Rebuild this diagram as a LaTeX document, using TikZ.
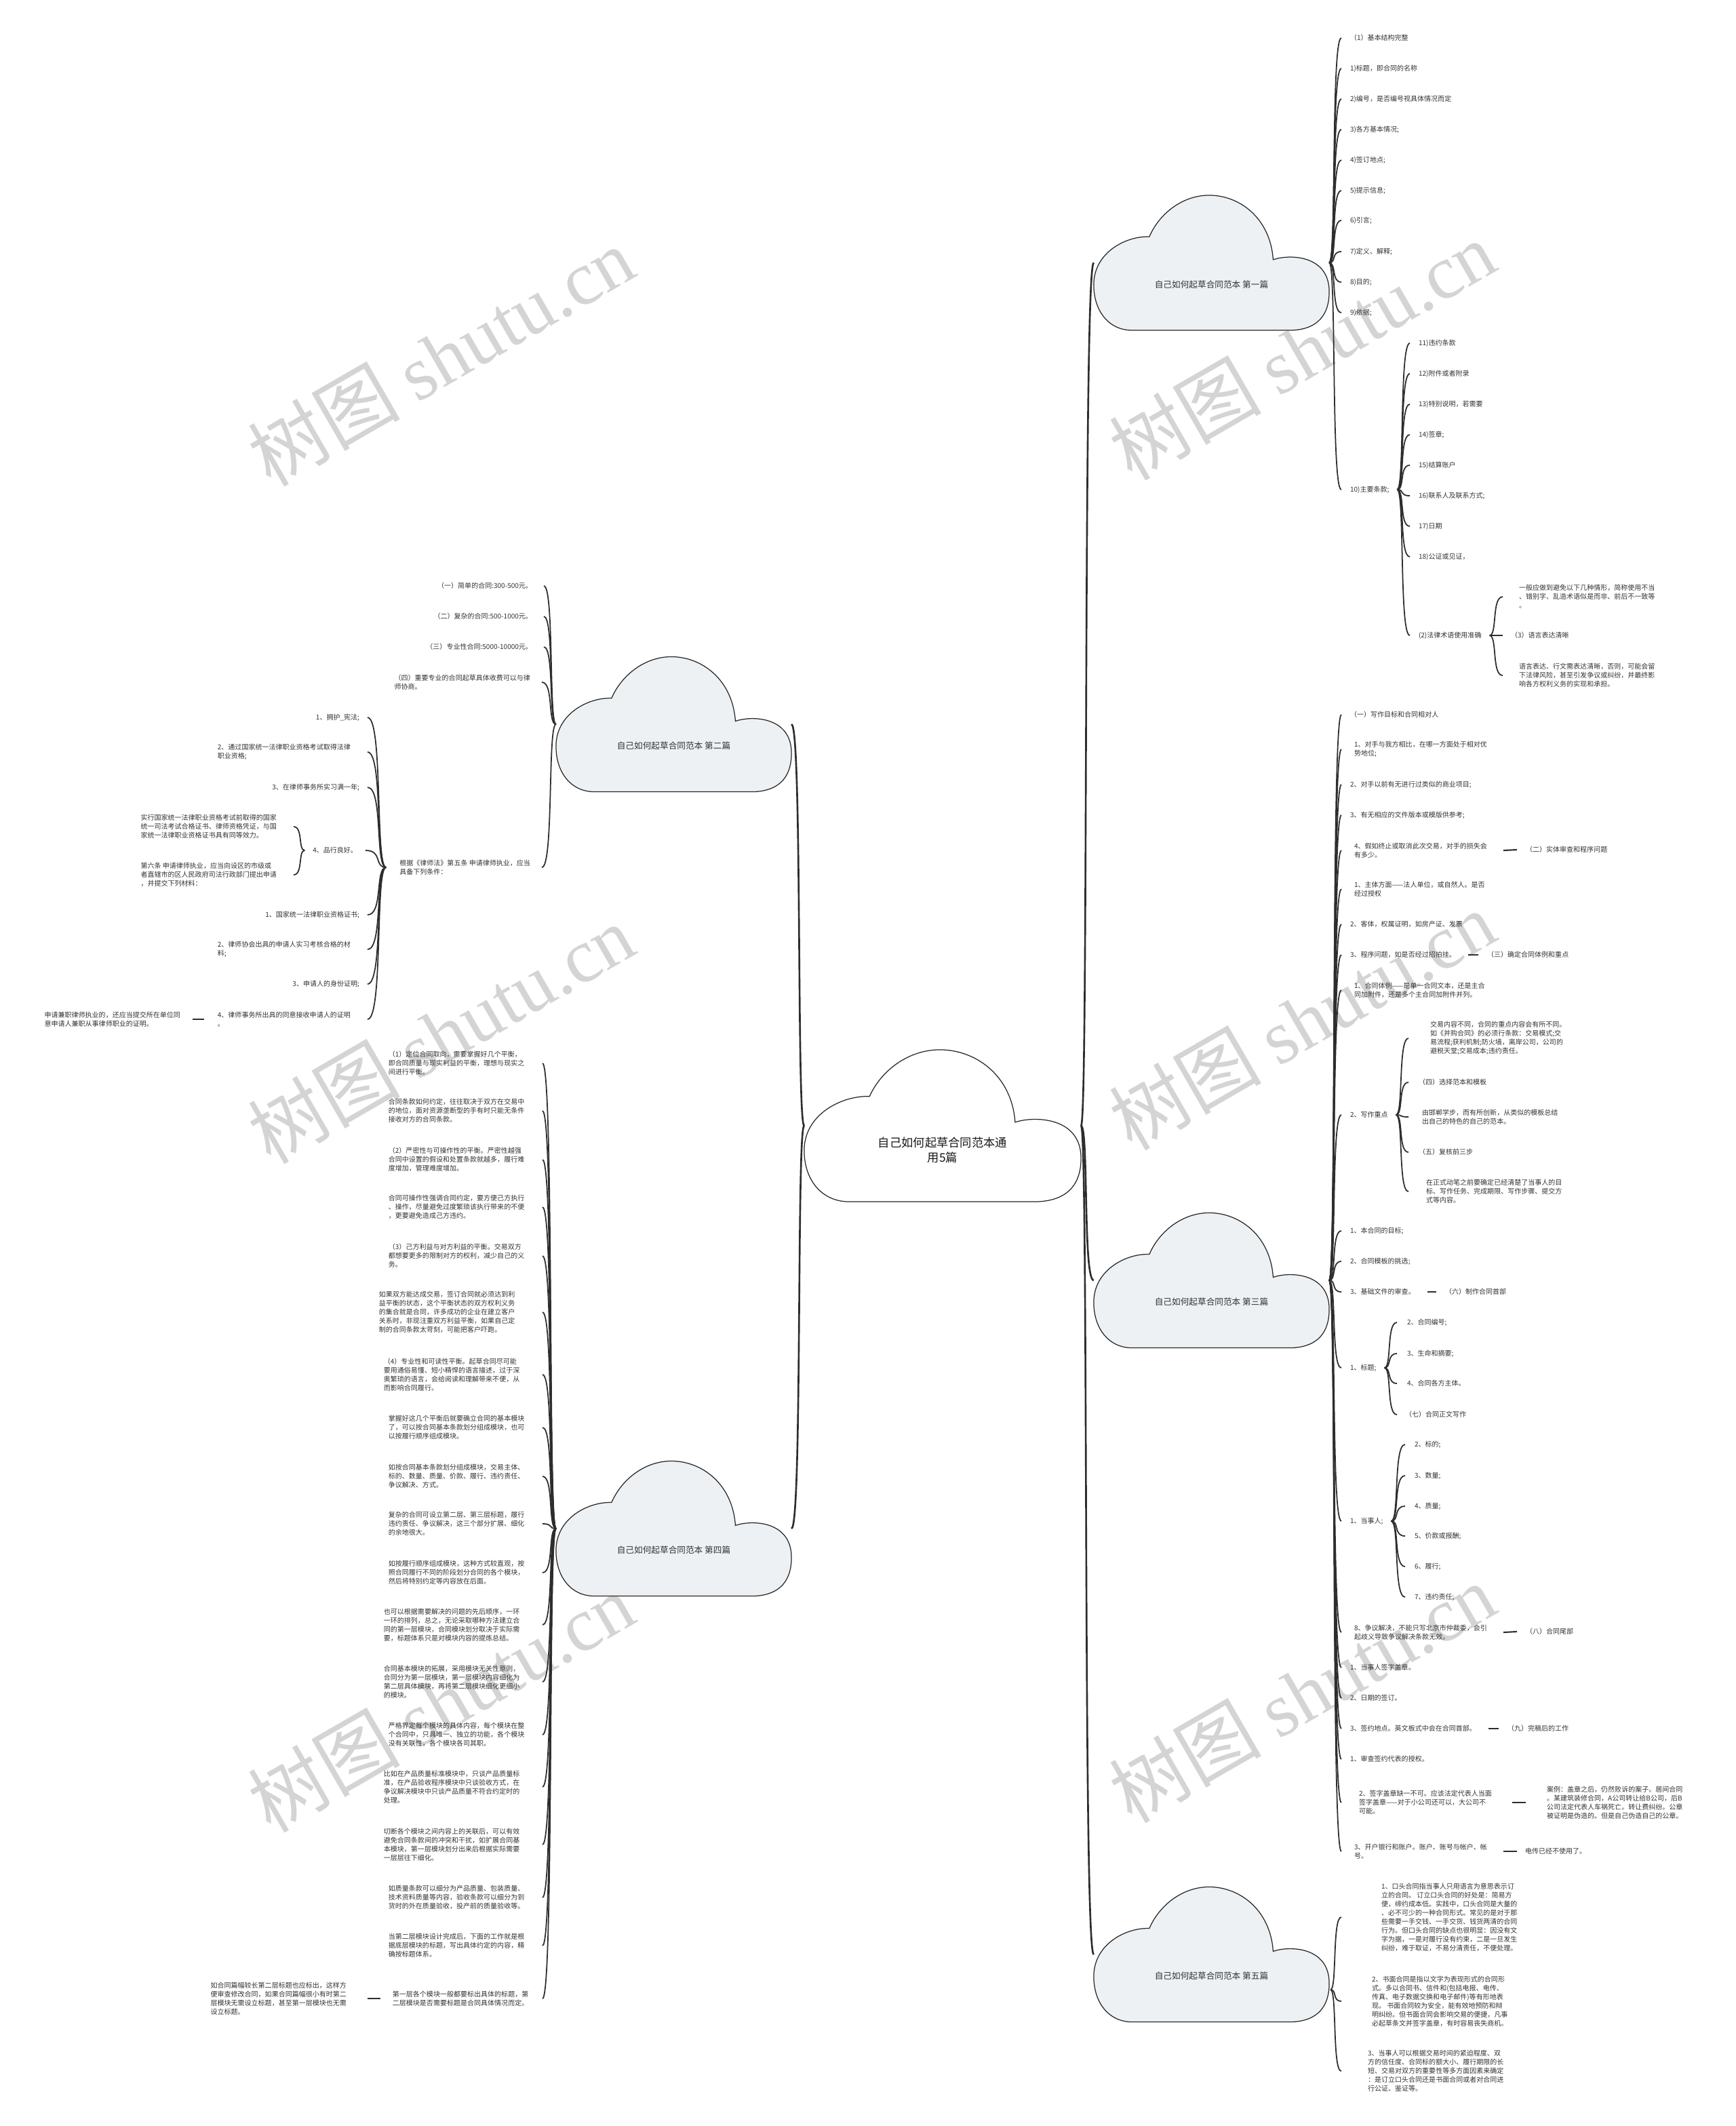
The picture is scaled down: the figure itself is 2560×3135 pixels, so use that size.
\documentclass[tikz,border=0pt]{standalone}
\usepackage{fontspec}
\setmainfont{Noto Sans CJK SC}
\newfontfamily\wmlatin{Liberation Serif}
\usetikzlibrary{calc}
\definecolor{txt}{RGB}{51,51,51}
\definecolor{ln}{RGB}{45,45,45}
\definecolor{secfill}{RGB}{237,241,244}
\definecolor{wmc}{RGB}{212,212,212}
\newcommand\fs{\fontsize{2.85pt}{3.7pt}\selectfont}
\newcommand\fsec{\fontsize{3.6pt}{4.5pt}\selectfont}
\newcommand\froot{\fontsize{4.92pt}{6.17pt}\selectfont}
\newcommand\fwm{\fontsize{32pt}{36pt}\selectfont}
\newcommand\br[3][brline]{\draw[#1] let \p1=#2, \p2=#3 in (\p1) .. controls ({\x1+0.6*(\x2-\x1)},\y1) and ({\x1+0.15*(\x2-\x1)},\y2) .. (\p2);}
\newcommand\cloudshape[4]{%
  \begin{scope}[shift={(#1.center)}]
  \draw[cloudline, fill=#4, x=#2, y=#3] (0.33,-0.5) -- (-0.336,-0.5)
   .. controls (-0.44,-0.5) and (-0.5,-0.35) .. (-0.5,-0.163)
   .. controls (-0.5,0.08) and (-0.36,0.2) .. (-0.264,0.193)
   .. controls (-0.22,0.37) and (-0.12,0.5) .. (-0.01,0.5)
   .. controls (0.12,0.5) and (0.25,0.33) .. (0.262,0.023)
   .. controls (0.33,0.065) and (0.5,0.06) .. (0.5,-0.214)
   .. controls (0.5,-0.42) and (0.43,-0.5) .. (0.33,-0.5) -- cycle;
  \end{scope}}
\tikzset{
  t/.style={font=\fs, text=txt, inner sep=0pt, outer sep=0pt, align=left},
  tl/.style={t, anchor=west},
  tr/.style={t, anchor=east},
  brline/.style={draw=ln, line width=0.5pt},
  trunk/.style={draw=ln, line width=0.75pt},
  dashline/.style={draw=ln, line width=0.6pt},
  cloudbox/.style={inner sep=0pt, outer sep=0pt, minimum width=3.47cm, minimum height=1.99cm},
  rootbox/.style={inner sep=0pt, outer sep=0pt, minimum width=4.08cm, minimum height=2.24cm},
  cloudline/.style={draw=black!85, line width=0.35pt},
  sect/.style={font=\fsec, text=txt, inner sep=0pt},
  roottext/.style={font=\froot, text=black!90, inner sep=0pt, align=center},
  wm/.style={font=\fwm, text=wmc, rotate=30, inner sep=0pt}
}
\begin{document}
\begin{tikzpicture}[x=0.01cm,y=-0.01cm]
\fill[white] (0,0) rectangle (2560,3135);
\useasboundingbox (0,0) rectangle (2560,3135);

% watermarks
\foreach \i/\wx/\wy in {1/650/525, 2/650/1524, 3/650/2510, 4/1920/516, 5/1920/1504, 6/1920/2496}
  \node[wm] (wm\i) at (\wx,\wy) {树图 {\wmlatin shutu.cn}};

% clouds
\node[rootbox] (R) at (1390,1660) {};
\node[cloudbox] (S1) at (1786.5,387.5) {};
\node[cloudbox] (S2) at (993.5,1068) {};
\node[cloudbox] (S3) at (1786.5,1888) {};
\node[cloudbox] (S4) at (993.5,2254) {};
\node[cloudbox] (S5) at (1786.5,2882) {};
\cloudshape{R}{4.08cm}{2.24cm}{white}
\cloudshape{S1}{3.47cm}{1.99cm}{secfill}
\cloudshape{S2}{3.47cm}{1.99cm}{secfill}
\cloudshape{S3}{3.47cm}{1.99cm}{secfill}
\cloudshape{S4}{3.47cm}{1.99cm}{secfill}
\cloudshape{S5}{3.47cm}{1.99cm}{secfill}
\node[roottext] (Rt) at (1390,1696) {自己如何起草合同范本通\\用5篇};
\node[sect] (S1t) at (1786.5,419.5) {自己如何起草合同范本 第一篇};
\node[sect] (S2t) at (993.5,1100) {自己如何起草合同范本 第二篇};
\node[sect] (S3t) at (1786.5,1920) {自己如何起草合同范本 第三篇};
\node[sect] (S4t) at (993.5,2286) {自己如何起草合同范本 第四篇};
\node[sect] (S5t) at (1786.5,2914) {自己如何起草合同范本 第五篇};

% trunks
\br[trunk]{(R.east)}{(S1.west)}
\br[trunk]{(R.east)}{(S3.west)}
\br[trunk]{(R.east)}{(S5.west)}
\br[trunk]{(R.west)}{(S2.east)}
\br[trunk]{(R.west)}{(S4.east)}

% ===== S1 =====
\node[tl] (a1) at (1991,56) {（1）基本结构完整};
\node[tl] (a2) at (1991,101) {1)标题，即合同的名称};
\node[tl] (a3) at (1991,146) {2)编号，是否编号视具体情况而定};
\node[tl] (a4) at (1991,191) {3)各方基本情况;};
\node[tl] (a5) at (1991,236) {4)签订地点;};
\node[tl] (a6) at (1991,281) {5)提示信息;};
\node[tl] (a7) at (1991,325) {6)引言;};
\node[tl] (a8) at (1991,371) {7)定义、解释;};
\node[tl] (a9) at (1991,416) {8)目的;};
\node[tl] (a10) at (1991,461) {9)依据;};
\node[tl] (a11) at (1991,722) {10)主要条款;};
\foreach \i in {1,...,11} \br{(S1.east)}{($(a\i.west)+(-13,0)$)};

\node[tl] (b1) at (2092,506) {11)违约条款};
\node[tl] (b2) at (2092,551) {12)附件或者附录};
\node[tl] (b3) at (2092,596) {13)特别说明，若需要};
\node[tl] (b4) at (2092,641) {14)签章;};
\node[tl] (b5) at (2092,686) {15)结算账户};
\node[tl] (b6) at (2092,731) {16)联系人及联系方式;};
\node[tl] (b7) at (2092,776) {17)日期};
\node[tl] (b8) at (2092,821) {18)公证或见证，};
\node[tl] (b9) at (2092,937) {(2)法律术语使用准确};
\foreach \i in {1,...,9} \br{($(a11.east)+(12,0)$)}{($(b\i.west)+(-13,0)$)};

\node[tl, inner xsep=0.12cm] (c1) at (2228,880) {一般应做到避免以下几种情形，简称使用不当\\、错别字、乱造术语似是而非、前后不一致等\\。};
\node[tl] (c2) at (2228,937) {（3）语言表达清晰};
\node[tl, inner xsep=0.12cm] (c3) at (2228,996) {语言表达、行文需表达清晰，否则，可能会留\\下法律风险，甚至引发争议或纠纷，并最终影\\响各方权利义务的实现和承担。};
\foreach \i in {1,2,3} \br{($(b9.east)+(12,0)$)}{($(c\i.west)+(-12,0)$)};

% ===== S3 =====
\node[tl] (d1) at (1991,1054) {（一）写作目标和合同相对人};
\node[tl, inner xsep=0.06cm] (d2) at (1991,1105) {1、对手与我方相比，在哪一方面处于相对优\\势地位;};
\node[tl] (d3) at (1991,1157) {2、对手以前有无进行过类似的商业项目;};
\node[tl] (d4) at (1991,1202) {3、有无相应的文件版本或模版供参考;};
\node[tl, inner xsep=0.06cm] (d5) at (1991,1254) {4、假如终止或取消此次交易，对手的损失会\\有多少。};
\node[tl, inner xsep=0.06cm] (d6) at (1991,1311) {1、主体方面——法人单位，或自然人。是否\\经过授权};
\node[tl] (d7) at (1991,1363) {2、客体，权属证明，如房产证、发票};
\node[tl] (d8) at (1991,1408) {3、程序问题，如是否经过招拍挂。};
\node[tl, inner xsep=0.06cm] (d9) at (1991,1460) {1、合同体例——是单一合同文本，还是主合\\同加附件，还是多个主合同加附件并列。};
\node[tl] (d10) at (1991,1644) {2、写作重点};
\node[tl] (d11) at (1991,1815) {1、本合同的目标;};
\node[tl] (d12) at (1991,1860) {2、合同模板的挑选;};
\node[tl] (d13) at (1991,1905) {3、基础文件的审查。};
\node[tl] (d14) at (1991,2017) {1、标题;};
\node[tl] (d15) at (1991,2243) {1、当事人;};
\node[tl, inner xsep=0.06cm] (d16) at (1991,2407) {8、争议解决，不能只写北京市仲裁委，会引\\起歧义导致争议解决条款无效。};
\node[tl] (d17) at (1991,2459) {1、当事人签字盖章。};
\node[tl] (d18) at (1991,2504) {2、日期的签订。};
\node[tl] (d19) at (1991,2549) {3、签约地点。英文板式中会在合同首部。};
\node[tl] (d20) at (1991,2594) {1、审查签约代表的授权。};
\node[tl, inner xsep=0.13cm] (d21) at (1991,2658) {2、签字盖章缺一不可。应该法定代表人当面\\签字盖章——对于小公司还可以，大公司不\\可能。};
\node[tl, inner xsep=0.06cm] (d22) at (1991,2730) {3、开户银行和账户。账户、账号与帐户、帐\\号。};
\foreach \i in {1,...,22} \br{(S3.east)}{($(d\i.west)+(-13,0)$)};

\node[tl] (e1) at (2250,1253) {（二）实体审查和程序问题};
\node[tl] (e2) at (2193,1408) {（三）确定合同体例和重点};
\node[tl] (e3) at (2131,1905) {（六）制作合同首部};
\node[tl] (e4) at (2250,2406) {（八）合同尾部};
\node[tl] (e5) at (2223,2549) {（九）完稿后的工作};
\node[tl] (e6) at (2281,2658) {案例：盖章之后，仍然败诉的案子。居间合同\\。某建筑装修合同，A公司转让给B公司，后B\\公司法定代表人车祸死亡。转让费纠纷。公章\\被证明是伪造的。但是自己伪造自己的公章。};
\node[tl] (e7) at (2249,2730) {电传已经不使用了。};
\draw[dashline] ($(d5.east)+(18,0)$) -- ($(e1.west)+(-13,0)$);
\draw[dashline] ($(d8.east)+(18,0)$) -- ($(e2.west)+(-13,0)$);
\draw[dashline] ($(d13.east)+(18,0)$) -- ($(e3.west)+(-13,0)$);
\draw[dashline] ($(d16.east)+(18,0)$) -- ($(e4.west)+(-13,0)$);
\draw[dashline] ($(d19.east)+(18,0)$) -- ($(e5.west)+(-13,0)$);
\draw[dashline] ($(d21.east)+(17,0)$) -- ($(e6.west)+(-31,0)$);
\draw[dashline] ($(d22.east)+(18,0)$) -- ($(e7.west)+(-12,0)$);

\node[tl, inner xsep=0.19cm] (f1) at (2090,1531) {交易内容不同，合同的重点内容会有所不同。\\如《并购合同》的必须行条款：交易模式;交\\易流程;获利机制;防火墙，离岸公司，公司的\\避税天堂;交易成本;违约责任。};
\node[tl, inner xsep=0.02cm] (f2) at (2090,1596) {（四）选择范本和模板};
\node[tl, inner xsep=0.07cm] (f3) at (2090,1647) {由邯郸学步，而有所创新，从类似的模板总结\\出自己的特色的自己的范本。};
\node[tl, inner xsep=0.02cm] (f4) at (2090,1699) {（五）复核前三步};
\node[tl, inner xsep=0.13cm] (f5) at (2090,1757) {在正式动笔之前要确定已经清楚了当事人的目\\标、写作任务、完成期限、写作步骤、提交方\\式等内容。};
\foreach \i in {1,...,5} \br{($(d10.east)+(12,0)$)}{($(f\i.west)+(-13,0)$)};

\node[tl, inner xsep=0.03cm] (g1) at (2072,1950) {2、合同编号;};
\node[tl, inner xsep=0.03cm] (g2) at (2072,1996) {3、生命和摘要;};
\node[tl, inner xsep=0.03cm] (g3) at (2072,2040) {4、合同各方主体。};
\node[tl] (g4) at (2072,2086) {（七）合同正文写作};
\foreach \i in {1,...,4} \br{($(d14.east)+(12,0)$)}{($(g\i.west)+(-12,0)$)};

\node[tl] (h1) at (2086,2130) {2、标的;};
\node[tl] (h2) at (2086,2176) {3、数量;};
\node[tl] (h3) at (2086,2221) {4、质量;};
\node[tl] (h4) at (2086,2265) {5、价款或报酬;};
\node[tl] (h5) at (2086,2310) {6、履行;};
\node[tl] (h6) at (2086,2355) {7、违约责任;};
\foreach \i in {1,...,6} \br{($(d15.east)+(12,0)$)}{($(h\i.west)+(-14,0)$)};

% ===== S5 =====
\coordinate (S5j) at ($(S5.east)+(2,52)$);
\node[tl, inner xsep=0.47cm] (k1) at (1990,2827) {1、口头合同指当事人只用语言为意思表示订\\立的合同。 订立口头合同的好处是：简易方\\便，缔约成本低。实践中，口头合同是大量的\\、必不可少的一种合同形式。常见的是对于那\\些需要一手交钱、一手交货、钱货两清的合同\\行为。但口头合同的缺点也很明显：因没有文\\字为据，一是对履行没有约束，二是一旦发生\\纠纷，难于取证，不易分清责任，不便处理。};
\node[tl, inner xsep=0.33cm] (k2) at (1990,2951) {2、书面合同是指以文字为表现形式的合同形\\式。多以合同书、信件和(包括电报、电传、\\传真、电子数据交换和电子邮件)等有形地表\\现。 书面合同较为安全，能有效地预防和辩\\明纠纷。但书面合同会影响交易的便捷，凡事\\必起草条文并签字盖章，有时容易丧失商机。};
\node[tl, inner xsep=0.27cm] (k3) at (1990,3054) {3、当事人可以根据交易时间的紧迫程度、双\\方的信任度、合同标的额大小、履行期限的长\\短、交易对双方的重要性等多方面因素来确定\\：是订立口头合同还是书面合同或者对合同进\\行公证、鉴证等。};
\foreach \i in {1,2,3} \br{(S5j)}{($(k\i.west)+(-12,0)$)};

% ===== S2 =====
\node[tr] (m1) at (785,864) {（一）简单的合同:300-500元。};
\node[tr] (m2) at (785,909) {（二）复杂的合同:500-1000元。};
\node[tr] (m3) at (785,954) {（三）专业性合同:5000-10000元。};
\node[tr] (m4) at (782,1006) {（四）重要专业的合同起草具体收费可以与律\\师协商。};
\node[tr] (m5) at (782,1279) {根据《律师法》第五条 申请律师执业，应当\\具备下列条件：};
\foreach \i in {1,...,5} \br{(S2.west)}{($(m\i.east)+(17,0)$)};

\node[tr] (n1) at (530,1058) {1、拥护\_宪法;};
\node[tr, text width=2.09cm] (n2) at (530,1109) {2、通过国家统一法律职业资格考试取得法律\\职业资格;};
\node[tr] (n3) at (530,1161) {3、在律师事务所实习满一年;};
\node[tr] (n4) at (527,1254) {4、品行良好。};
\node[tr] (n5) at (530,1349) {1、国家统一法律职业资格证书;};
\node[tr, text width=2.09cm] (n6) at (530,1400) {2、律师协会出具的申请人实习考核合格的材\\料;};
\node[tr] (n7) at (530,1451) {3、申请人的身份证明;};
\node[tr, text width=2.09cm] (n8) at (530,1503) {4、律师事务所出具的同意接收申请人的证明\\。};
\foreach \i in {1,...,8} \br{($(m5.west)+(-20,0)$)}{($(n\i.east)+(12,0)$)};

\node[tr] (p1) at (408,1219) {实行国家统一法律职业资格考试前取得的国家\\统一司法考试合格证书、律师资格凭证，与国\\家统一法律职业资格证书具有同等效力。};
\node[tr] (p2) at (408,1290) {第六条 申请律师执业，应当向设区的市级或\\者直辖市的区人民政府司法行政部门提出申请\\，并提交下列材料：};
\foreach \i in {1,2} \br{($(n4.west)+(-12,0)$)}{($(p\i.east)+(25,0)$)};

\node[tr] (q1) at (266,1503) {申请兼职律师执业的，还应当提交所在单位同\\意申请人兼职从事律师职业的证明。};
\draw[dashline] ($(n8.west)+(-20,0)$) -- ($(q1.east)+(18,0)$);

% ===== S4 =====
\node[tr, text width=2.15cm] (r1) at (788,1568) {（1）定位合同取向，需要掌握好几个平衡，\\即合同质量与现实利益的平衡，理想与现实之\\间进行平衡。};
\node[tr, text width=2.15cm] (r2) at (788,1638) {合同条款如何约定，往往取决于双方在交易中\\的地位，面对资源垄断型的手有时只能无条件\\接收对方的合同条款。};
\node[tr, text width=2.15cm] (r3) at (788,1710) {（2）严密性与可操作性的平衡。严密性越强\\合同中设置的假设和处置条款就越多，履行难\\度增加，管理难度增加。};
\node[tr, text width=2.15cm] (r4) at (788,1780) {合同可操作性强调合同约定，要方便己方执行\\、操作，尽量避免过度繁琐该执行带来的不便\\，更要避免造成己方违约。};
\node[tr, text width=2.15cm] (r5) at (788,1852) {（3）己方利益与对方利益的平衡。交易双方\\都想要更多的限制对方的权利，减少自己的义\\务。};
\node[tr, text width=2.29cm] (r6) at (788,1935) {如果双方能达成交易，签订合同就必须达到利\\益平衡的状态，这个平衡状态的双方权利义务\\的集合就是合同，许多成功的企业在建立客户\\关系时，非现注重双方利益平衡，如果自己定\\制的合同条款太苛刻，可能把客户吓跑。};
\node[tr, text width=2.22cm] (r7) at (788,2027) {（4）专业性和可读性平衡。起草合同尽可能\\要用通俗易懂、短小精悍的语言描述，过于深\\奥繁琐的语言，会给阅读和理解带来不便，从\\而影响合同履行。};
\node[tr, text width=2.15cm] (r8) at (788,2105) {掌握好这几个平衡后就要确立合同的基本模块\\了，可以按合同基本条款划分组成模块，也可\\以按履行顺序组成模块。};
\node[tr, text width=2.15cm] (r9) at (788,2177) {如按合同基本条款划分组成模块，交易主体、\\标的、数量、质量、价款、履行、违约责任、\\争议解决、方式。};
\node[tr, text width=2.15cm] (r10) at (788,2247) {复杂的合同可设立第二层、第三层标题，履行\\违约责任、争议解决，这三个部分扩展、细化\\的余地很大。};
\node[tr, text width=2.15cm] (r11) at (788,2319) {如按履行顺序组成模块，这种方式较直观，按\\照合同履行不同的阶段划分合同的各个模块，\\然后将特别约定等内容放在后面。};
\node[tr, text width=2.22cm] (r12) at (788,2396) {也可以根据需要解决的问题的先后顺序，一环\\一环的排列，总之，无论采取哪种方法建立合\\同的第一层模块，合同模块划分取决于实际需\\要，标题体系只是对模块内容的提炼总结。};
\node[tr, text width=2.22cm] (r13) at (788,2480) {合同基本模块的拓展，采用模块无关性原则，\\合同分为第一层模块，第一层模块内容细化为\\第二层具体模块，再将第二层模块细化更细小\\的模块。};
\node[tr, text width=2.15cm] (r14) at (788,2558) {严格界定每个模块的具体内容，每个模块在整\\个合同中，只具唯一、独立的功能，各个模块\\没有关联性，各个模块各司其职。};
\node[tr, text width=2.22cm] (r15) at (788,2635) {比如在产品质量标准模块中，只谈产品质量标\\准，在产品验收程序模块中只谈验收方式，在\\争议解决模块中只谈产品质量不符合约定时的\\处理。};
\node[tr, text width=2.22cm] (r16) at (788,2720) {切断各个模块之间内容上的关联后，可以有效\\避免合同条款间的冲突和干扰，如扩展合同基\\本模块，第一层模块划分出来后根据实际需要\\一层层往下细化。};
\node[tr, text width=2.15cm] (r17) at (788,2798) {如质量条款可以细分为产品质量、包装质量、\\技术资料质量等内容，验收条款可以细分为到\\货时的外在质量验收，投产前的质量验收等。};
\node[tr, text width=2.15cm] (r18) at (788,2869) {当第二层模块设计完成后，下面的工作就是根\\据底层模块的标题，写出具体约定的内容，精\\确按标题体系。};
\node[tr, text width=2.09cm] (r19) at (788,2947) {第一层各个模块一般都要标出具体的标题，第\\二层模块是否需要标题是合同具体情况而定。};
\foreach \i in {1,...,19} \br{(S4.west)}{($(r\i.east)+(12,0)$)};

\node[tr] (s1) at (511,2947) {如合同篇幅较长第二层标题也应标出，这样方\\便审查修改合同，如果合同篇幅很小有时第二\\层模块无需设立标题，甚至第一层模块也无需\\设立标题。};
\draw[dashline] ($(r19.west)+(-18,0)$) -- ($(s1.east)+(31,0)$);
\end{tikzpicture}
\end{document}
